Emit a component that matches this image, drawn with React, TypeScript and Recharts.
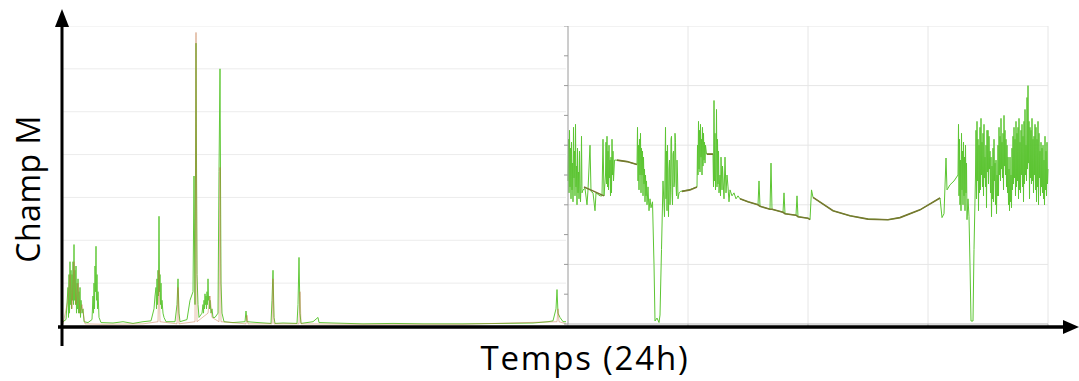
import React from 'react';
import { LineChart, Line, XAxis, YAxis, CartesianGrid } from 'recharts';

// left panel: [sample offset, field value 0..7]
const leftBase1 = [[0, 0.1], [3, 0.15], [5, 0.9], [5.5, 0.2], [6, 1.2], [6.5, 0.3], [7, 1.5], [7.5, 0.5], [8, 1.3], [8.5, 0.4], [9, 1.2], [9.5, 0.6], [10, 1.5], [10.5, 0.5], [11, 1.9], [11.5, 0.6], [12, 1.3], [12.5, 0.5], [13, 1.4], [13.5, 0.3], [14, 1.0], [14.5, 0.4], [15, 1.1], [15.5, 0.3], [16, 0.8], [16.5, 0.3], [17, 0.9], [17.5, 0.2], [18, 0.6], [19, 0.3], [20, 0.4], [21, 0.1], [25, 0.08]];
const leftBurst2 = [[29, 0.15], [30, 0.7], [30.5, 0.3], [31, 1.0], [31.5, 0.4], [32, 1.4], [32.5, 0.8], [33, 1.86], [33.5, 0.6], [34, 1.2], [34.5, 0.4], [35, 0.8], [36, 0.2], [38, 0.08], [50, 0.07], [60, 0.1], [70, 0.06], [80, 0.1], [88, 0.12]];
const leftBurst3 = [[91, 0.4], [92, 0.7], [93, 0.9], [93.5, 0.4], [94, 1.1], [94.5, 0.5], [95, 1.3], [95.5, 0.7], [96, 2.56], [96.5, 0.8], [97, 1.2], [97.5, 0.5], [98, 1.0], [98.5, 0.4], [99, 0.6], [100, 0.3], [101, 0.2], [103, 0.1], [112, 0.1], [114, 0.5], [115, 1.1], [116, 0.3], [117, 0.1], [124, 0.15], [127, 0.6], [130, 0.8], [131, 3.5], [132, 0.5], [133, 6.6], [134, 1.2], [135, 0.5], [136, 0.2]];
const leftBurst4 = [[139, 0.3], [140, 0.5], [140.5, 0.3], [141, 0.6], [141.5, 0.4], [142, 0.75], [142.5, 0.5], [143, 0.7], [143.5, 0.4], [144, 0.8], [144.5, 0.5], [145, 1.1], [145.5, 0.6], [146, 0.7], [146.5, 0.4], [147, 0.6], [148, 0.3], [149, 0.4], [150, 0.2], [152, 0.2], [155, 0.3], [156, 3.6], [157, 6.0], [158, 1.0], [159, 0.3], [161, 0.1]];
const leftTail = [[170, 0.08], [182, 0.1], [183, 0.35], [184, 0.1], [195, 0.08], [208, 0.06], [209, 0.6], [210, 1.3], [211, 0.2], [212, 0.06], [220, 0.07], [234, 0.06], [235, 0.5], [236, 1.6], [237, 0.3], [238, 0.06], [250, 0.1], [255, 0.2], [256, 0.08], [270, 0.07], [300, 0.05], [330, 0.06], [360, 0.05], [400, 0.05], [440, 0.06], [470, 0.07], [485, 0.1], [490, 0.12], [493, 0.4], [494, 0.85], [495, 0.3], [497, 0.2], [500, 0.1], [503, 0.1]];
const leftRedChannel = [[0, 0.05], [5, 0.6], [7, 1.2], [9, 0.4], [11, 1.5], [13, 0.5], [15, 1.0], [17, 0.3], [19, 0.5], [22, 0.05], [40, 0.04], [80, 0.05], [95, 0.1], [96, 1.3], [97, 0.1], [114, 0.05], [115, 0.9], [116, 0.05], [132, 0.1], [133, 6.85], [134, 0.1], [145, 0.3], [147, 0.7], [149, 0.2], [156, 0.1], [157, 3.7], [158, 0.1], [183, 0.05], [184, 0.25], [185, 0.05], [209, 0.05], [210, 1.1], [211, 0.05], [236, 0.05], [237, 0.8], [238, 0.05], [300, 0.04], [400, 0.04], [494, 0.1], [495, 0.4], [496, 0.1], [503, 0.05]];

// right panel: [sample offset, field value 0..10]
const rightStart = [[0, 4.8], [0.5, 6.2], [1, 4.4], [1.5, 6.5], [2, 4.6], [2.5, 5.9], [3, 4.2], [3.5, 6.1], [4, 4.5], [4.5, 5.4], [5, 4.1], [5.5, 6.6], [6, 4.9], [6.5, 5.8], [7, 4.3], [7.5, 6.7], [8, 4.6], [8.5, 5.3], [9, 4.0], [9.5, 5.9], [10, 4.4], [10.5, 5.1], [11, 4.2], [11.5, 5.8], [12, 4.6], [12.5, 4.1], [13, 4.7], [13.5, 6.3], [14, 4.4], [15, 4.5]];
const rightDrift1 = [[17, 4.55], [19, 4.0], [20, 4.5], [22, 6.0], [23, 4.45], [25, 4.4], [27, 3.8], [28, 4.4], [30, 4.35], [32, 4.3], [34, 4.3], [35, 6.2], [36, 4.3]];
const rightBurst2 = [[37.5, 5.0], [38, 6.1], [38.5, 4.7], [39, 6.3], [39.5, 4.6], [40, 5.8], [40.5, 4.5], [41, 6.0], [41.5, 4.9], [42, 5.5], [42.5, 4.3], [43, 5.6], [43.5, 4.4], [44, 6.2], [44.5, 5.0], [45, 5.8], [45.5, 4.8], [46.5, 5.5], [48, 5.5], [59, 5.45], [69, 5.35]];
const rightBurst3 = [[69.5, 6.6], [70, 4.8], [70.5, 6.0], [71, 4.5], [71.5, 6.2], [72, 5.0], [72.5, 6.4], [73, 4.4], [73.5, 5.9], [74, 5.0], [74.5, 5.8], [75, 4.3], [75.5, 5.6], [76, 4.7], [76.5, 5.2], [77, 4.1], [77.5, 5.0], [78, 4.3], [78.5, 4.8], [79, 4.0], [80, 4.6], [81, 3.8], [82, 4.2], [83, 3.9], [84.5, 4.1]];
const rightDip1 = [[86, 2.0], [87, 0.1], [89, 0.2], [91, 0.05], [92, 0.3], [93.5, 2.5], [95, 4.8], [96.5, 3.6]];
const rightBurst4 = [[97.5, 6.6], [98, 4.2], [98.5, 5.8], [99, 3.8], [99.5, 6.0], [100, 4.5], [100.5, 3.6], [101, 5.2], [101.5, 5.5], [102, 4.0], [102.5, 4.6], [103, 6.2], [103.5, 6.3], [104, 4.4], [104.5, 4.0], [105, 5.7], [105.5, 5.8], [106, 4.6], [106.5, 4.8], [107, 6.4], [107.5, 6.1], [108, 4.7], [108.5, 4.3], [109, 5.5], [109.5, 5.0], [110, 4.2], [111, 4.4], [112.5, 4.45], [121, 4.5], [129, 4.6]];
const rightBurst5 = [[129.5, 6.0], [130, 5.0], [130.5, 6.8], [131, 5.2], [131.5, 6.5], [132, 5.1], [132.5, 6.7], [133, 5.6], [133.5, 6.2], [134, 5.0], [134.5, 6.6], [135, 5.3], [135.5, 6.4], [136, 5.5], [136.5, 6.1], [137, 5.4], [137.5, 6.0], [138.5, 5.7], [139, 5.7], [145, 5.7]];
const rightBurst6 = [[145.5, 4.6], [146, 7.5], [146.5, 4.8], [147, 6.4], [147.5, 4.5], [148, 5.2], [148.5, 7.2], [149, 4.6], [149.5, 6.2], [150, 4.7], [150.5, 5.8], [151, 4.4], [152, 5.0], [152.5, 4.3], [153, 5.6], [154, 4.5], [154.5, 5.3], [155, 4.9], [156, 4.2], [157, 5.6], [158, 4.4], [159, 5.0], [160, 4.6], [161, 4.1], [162, 4.5], [164, 4.3], [166, 4.4], [168, 4.2], [170, 4.3]];
const rightDrift2 = [[172, 4.2], [180, 4.1], [190, 4.0], [191, 4.8], [192, 3.95], [202, 3.85], [203, 5.4], [204, 3.85], [215, 3.75], [216, 4.4], [217, 3.7], [228, 3.65], [229, 4.3], [230, 3.6], [240, 3.55], [242, 3.5]];
const rightArc = [[243.5, 4.5], [245, 4.25], [265, 3.8], [282, 3.63], [300, 3.52], [320, 3.5], [332, 3.57], [352, 3.83], [372, 4.23], [374, 3.57], [376, 3.7], [378, 5.57], [379, 4.5], [382, 4.67], [386, 4.8], [390, 5.0]];
const rightBurst7 = [[390.5, 6.7], [391, 4.3], [391.5, 6.2], [392, 4.0], [392.5, 5.5], [393, 3.8], [393.5, 6.4], [394, 4.5], [394.5, 5.8], [395, 4.0], [395.5, 6.1], [396, 4.3], [396.5, 5.6], [397, 3.8], [397.5, 6.0], [398, 4.4], [398.5, 5.4], [399, 3.5], [400, 4.2], [401, 3.6]];
const rightDip2 = [[402, 2.0], [403, 0.1], [405, 0.1], [406, 2.5], [407.5, 5.0]];
const rightEnd = [[408, 6.5], [408.5, 4.2], [409, 6.8], [409.5, 4.8], [410, 6.2], [410.5, 3.8], [411, 6.0], [411.5, 4.4], [412, 6.6], [412.5, 4.5], [413, 6.9], [413.5, 5.0], [414, 6.1], [414.5, 4.6], [415, 6.4], [415.5, 4.3], [416, 6.7], [416.5, 4.9], [417, 5.6], [417.5, 4.6], [418, 6.0], [418.5, 3.9], [419, 6.5], [419.5, 5.1], [420, 6.5], [420.5, 4.7], [421, 6.3], [421.5, 5.2], [422, 5.8], [422.5, 4.4], [423, 5.6], [423.5, 3.6], [424, 5.3], [424.5, 4.2], [425, 5.9], [425.5, 4.1], [426, 6.2], [426.5, 4.8], [427, 5.4], [427.5, 4.0], [428, 5.5], [428.5, 3.7], [429, 5.0], [429.5, 4.3], [430, 6.0], [430.5, 4.3], [431, 6.6], [431.5, 5.0], [432, 6.3], [432.5, 4.8], [433, 6.9], [433.5, 5.2], [434, 6.1], [434.5, 4.9], [435, 6.4], [435.5, 4.5], [436, 7.0], [436.5, 5.3], [437, 6.5], [437.5, 5.0], [438, 6.2], [438.5, 4.6], [439, 6.0], [439.5, 4.4], [440, 5.6], [440.5, 4.0], [441, 5.2], [441.5, 3.8], [442, 5.6], [442.5, 4.1], [443, 5.0], [443.5, 3.9], [444, 5.9], [444.5, 4.5], [445, 6.3], [445.5, 4.7], [446, 6.6], [446.5, 4.9], [447, 6.2], [447.5, 4.3], [448, 6.8], [448.5, 4.6], [449, 6.4], [449.5, 4.8], [450, 6.6], [450.5, 4.2], [451, 6.9], [451.5, 4.5], [452, 6.1], [452.5, 4.4], [453, 6.5], [453.5, 5.0], [454, 6.7], [454.5, 4.6], [455, 6.3], [455.5, 4.1], [456, 6.8], [456.5, 4.7], [457, 7.2], [457.5, 5.0], [458, 6.0], [458.5, 4.8], [459, 7.6], [459.5, 5.2], [460, 8.0], [460.5, 5.4], [461, 6.8], [461.5, 4.2], [462, 6.6], [462.5, 4.9], [463, 6.5], [463.5, 4.7], [464, 6.9], [464.5, 4.8], [465, 6.2], [465.5, 4.4], [466, 6.3], [466.5, 5.0], [467, 6.7], [467.5, 4.5], [468, 6.6], [468.5, 4.1], [469, 6.2], [469.5, 4.6], [470, 6.8], [470.5, 4.0], [471, 6.4], [471.5, 4.9], [472, 5.8], [472.5, 4.3], [473, 6.1], [473.5, 4.6], [474, 5.9], [474.5, 4.4], [475, 6.0], [475.5, 4.2], [476, 5.5], [476.5, 4.0], [477, 6.3], [477.5, 4.5], [478, 5.8], [478.5, 4.3], [479, 6.1], [479.5, 4.7], [480, 5.2]];
// second channel where both overlap (olive trend)
const rightOliveTrend = [[16, 4.6], [26, 4.45], [36, 4.3], [37, null], [49, 5.5], [59, 5.45], [69, 5.35], [70, null], [114, 4.45], [122, 4.5], [129, 4.6], [130, null], [139, 5.7], [145, 5.7], [146, null], [172, 4.2], [180, 4.1], [190, 4.0], [192, 3.95], [202, 3.85], [204, 3.85], [215, 3.75], [217, 3.7], [228, 3.65], [230, 3.6], [240, 3.55], [242, 3.5], [243, null], [245, 4.25], [265, 3.8], [282, 3.63], [300, 3.52], [320, 3.5], [332, 3.57], [352, 3.83], [372, 4.23]];

const yTicksRight = [0, 1, 2, 3, 4, 5, 6, 7, 8, 9, 10];
const xTicksRight = [0, 120, 240, 360, 480];

const toPoints = (pairs: (number | null)[][]) => pairs.map(([t, v]) => ({ t, v }));

const leftGreen = toPoints([...leftBase1, ...leftBurst2, ...leftBurst3, ...leftBurst4, ...leftTail]);
const leftRed = toPoints(leftRedChannel);
const rightGreen = toPoints([
    ...rightStart, ...rightDrift1, ...rightBurst2, ...rightBurst3, ...rightDip1, ...rightBurst4,
    ...rightBurst5, ...rightBurst6, ...rightDrift2, ...rightArc, ...rightBurst7, ...rightDip2, ...rightEnd,
]);
const rightOlive = toPoints(rightOliveTrend);

const font = '"Open Sans", sans-serif';

const App: React.FC = () => (
    <div style={{ position: 'absolute', left: 0, top: 0, width: 1079, height: 381, background: '#fff', overflow: 'hidden' }}>
        <div style={{ position: 'absolute', left: 63, top: 26 }}>
            <LineChart width={503} height={300} margin={{ top: 0, right: 0, bottom: 0, left: 0 }}>
                <CartesianGrid vertical={false} stroke="#ececec" horizontalValues={[1, 2, 3, 4, 5, 6, 7]} />
                <XAxis type="number" dataKey="t" domain={[0, 503]} hide />
                <YAxis type="number" domain={[0, 7]} hide />
                <Line type="linear" data={leftGreen} dataKey="v" stroke="#62c93a" strokeWidth={1} dot={false} isAnimationActive={false} />
                <Line type="linear" data={leftRed} dataKey="v" stroke="#c0703e" strokeOpacity={0.45} strokeWidth={1} dot={false} isAnimationActive={false} />
            </LineChart>
        </div>

        <div style={{ position: 'absolute', left: 562, top: 26 }}>
            <LineChart width={488} height={304} margin={{ top: 0, right: 2, bottom: 0, left: 0 }}>
                <CartesianGrid stroke="#e6e6e6" horizontalValues={[2, 4, 6, 8, 10]} verticalValues={[120, 240, 360, 480]} />
                <XAxis type="number" dataKey="t" domain={[0, 480]} ticks={xTicksRight} tickFormatter={() => ''} tickSize={3} height={6} stroke="#b5b5b5" />
                <YAxis type="number" domain={[0, 10]} ticks={yTicksRight} tickFormatter={() => ''} tickSize={4} width={6} stroke="#9a9a9a" />
                <Line type="linear" data={rightGreen} dataKey="v" stroke="#5cc532" strokeWidth={1} dot={false} isAnimationActive={false} />
                <Line type="linear" data={rightOlive} dataKey="v" stroke="#76782f" strokeWidth={1.6} dot={false} connectNulls={false} isAnimationActive={false} />
            </LineChart>
        </div>

        <svg width={1079} height={381} style={{ position: 'absolute', left: 0, top: 0, pointerEvents: 'none' }}>
            <line x1={62} y1={346} x2={62} y2={24} stroke="#000" strokeWidth={3} />
            <polygon points="62,9 55,27 69,27" fill="#000" />
            <line x1={58} y1={327} x2={1066} y2={327} stroke="#000" strokeWidth={3.5} />
            <polygon points="1079,327 1063,320 1063,334" fill="#000" />
            <text x={27} y={189} transform="rotate(-90 27 189)" textAnchor="middle" dominantBaseline="central" fontFamily={font} fontSize={32} letterSpacing={0.5} fill="#000">
                Champ M
            </text>
            <text x={585} y={370} textAnchor="middle" fontFamily={font} fontSize={33} letterSpacing={1.8} fill="#000">
                Temps (24h)
            </text>
        </svg>
    </div>
);

export default App;
